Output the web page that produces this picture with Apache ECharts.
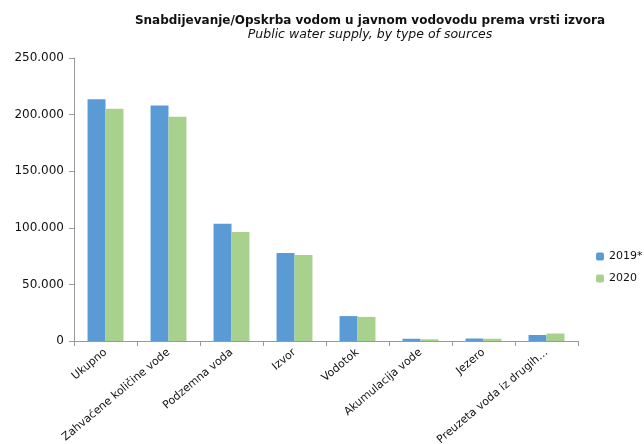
<!DOCTYPE html>
<html><head><meta charset="utf-8">
<script src="https://cdn.jsdelivr.net/npm/echarts@6/dist/echarts.min.js"></script>
<style>html,body{margin:0;padding:0;background:#fff}#c{width:644px;height:444px}</style>
</head><body><div id="c"></div>
<script>
const categories = ['Ukupno','Zahvaćene količine vode','Podzemna voda','Izvor','Vodotok','Akumulacija vode','Jezero','Preuzeta voda iz drugih…'];
const s2019 = [213500, 208000, 103500, 77800, 22000, 2000, 2200, 5300];
const s2020 = [205200, 198000, 96300, 76000, 21300, 1500, 2000, 6600];
const yTicks = [0, 50000, 100000, 150000, 200000, 250000];
const seriesNames = ['2019*', '2020'];

const FF = 'DejaVu Sans, sans-serif';
const fmt = v => String(v).replace(/\B(?=(\d{3})+(?!\d))/g, '.');
const chart = echarts.init(document.getElementById('c'));
chart.setOption({
  animation: false,
  textStyle: {fontFamily: FF},
  title: {
    text: 'Snabdijevanje/Opskrba vodom u javnom vodovodu prema vrsti izvora',
    subtext: 'Public water supply, by type of sources',
    left: 365, top: 10, textAlign: 'center', itemGap: 1,
    textStyle: {fontSize: 12, fontWeight: 'bold', color: '#111', fontFamily: FF},
    subtextStyle: {fontSize: 12.5, fontStyle: 'italic', color: '#111', fontFamily: FF}
  },
  legend: {
    orient: 'vertical', left: 591, top: 246, itemWidth: 8, itemHeight: 8, itemGap: 11,
    itemStyle: {borderWidth: 0},
    textStyle: {fontSize: 11, color: '#111', fontFamily: FF},
    data: seriesNames
  },
  grid: {left: 74, right: 66, top: 58, bottom: 103, containLabel: false, outerBoundsMode: 'none'},
  xAxis: {
    type: 'category', data: categories,
    axisLine: {lineStyle: {color: '#999'}},
    axisTick: {show: true, interval: 0, length: 5, lineStyle: {color: '#999'}},
    axisLabel: {interval: 0, rotate: 40, fontSize: 11, color: '#111', margin: 10, fontFamily: FF}
  },
  yAxis: {
    type: 'value', min: 0, max: 250000, interval: 50000,
    axisLine: {show: true, lineStyle: {color: '#999'}},
    axisTick: {show: true, length: 5, lineStyle: {color: '#999'}},
    splitLine: {show: false},
    axisLabel: {fontSize: 12, color: '#111', margin: 10, fontFamily: FF, formatter: v => yTicks.includes(v) ? fmt(v) : ''}
  },
  series: [
    {name: seriesNames[0], type: 'bar', data: s2019, barGap: '0%', barCategoryGap: '43%', itemStyle: {color: '#5B9BD5'}},
    {name: seriesNames[1], type: 'bar', data: s2020, itemStyle: {color: '#A9D18E'}}
  ]
});
</script></body></html>
